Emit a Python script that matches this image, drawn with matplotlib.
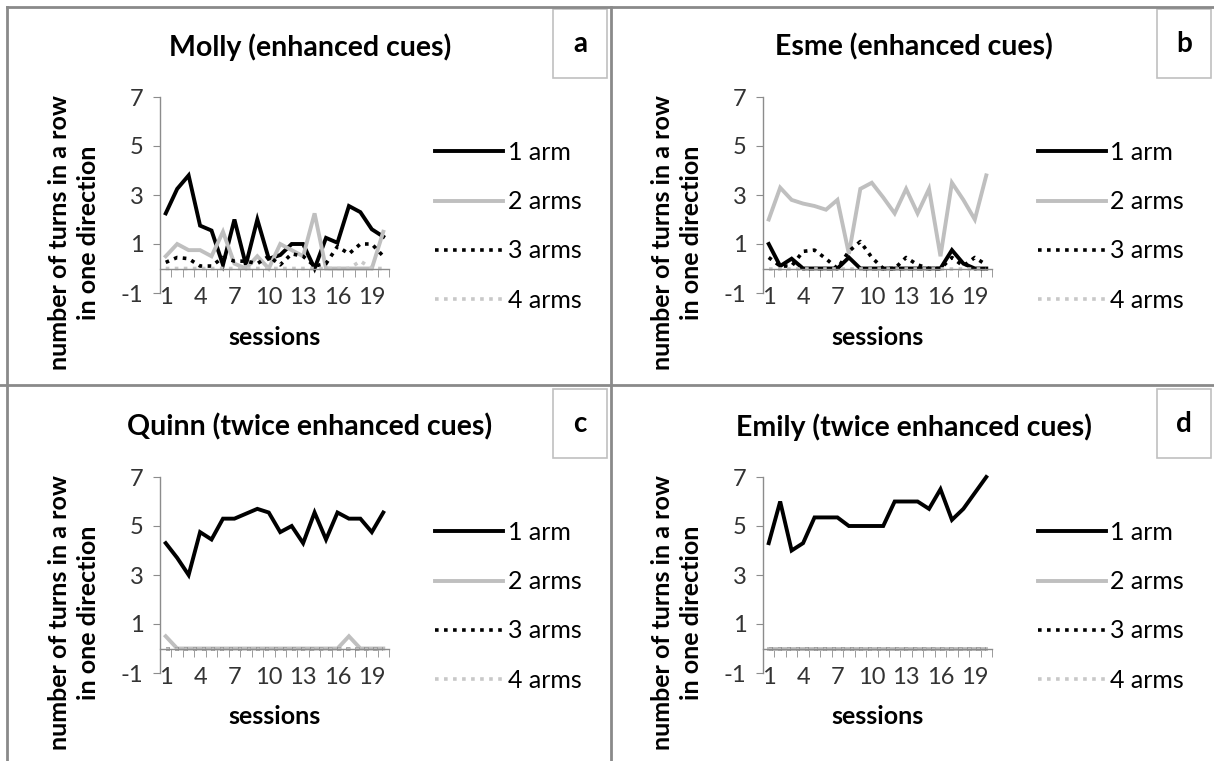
import matplotlib.pyplot as plt
from matplotlib.lines import Line2D
from matplotlib.patches import Rectangle

plt.rcParams['font.family'] = ['Lato', 'DejaVu Sans']
plt.rcParams['axes.unicode_minus'] = False

W, H = 1214, 761

sessions = list(range(1, 21))
series_names = ['1 arm', '2 arms', '3 arms', '4 arms']
x_tick_labels = [1, 4, 7, 10, 13, 16, 19]
y_ticks = [-1, 1, 3, 5, 7]

molly_1 = [2.25, 3.25, 3.8, 1.75, 1.55, 0.15, 2.0, 0.15, 2.0, 0.4,
           0.55, 1.0, 1.0, 0.0, 1.25, 1.05, 2.55, 2.3, 1.6, 1.3]
molly_2 = [0.5, 1.0, 0.75, 0.75, 0.5, 1.5, 0.2, 0.0, 0.5, 0.0,
           1.0, 0.75, 0.5, 2.25, 0.0, 0.0, 0.0, 0.0, 0.0, 1.5]
molly_3 = [0.25, 0.45, 0.4, 0.1, 0.1, 0.45, 0.3, 0.3, 0.2, 0.5,
           0.15, 0.6, 0.5, 0.1, 0.2, 0.9, 0.6, 1.0, 1.0, 0.5]
molly_4 = [0, 0, 0, 0, 0, 0, 0, 0, 0, 0,
           0, 0, 0, 0, 0, 0, 0, 0.3, 0, 0]

esme_1 = [1.0, 0.1, 0.4, 0.0, 0.0, 0.0, 0.0, 0.45, 0.0, 0.0,
          0.0, 0.0, 0.0, 0.0, 0.0, 0.0, 0.75, 0.2, 0.0, 0.0]
esme_2 = [2.0, 3.3, 2.8, 2.65, 2.55, 2.4, 2.8, 0.6, 3.25, 3.5,
          2.9, 2.25, 3.25, 2.25, 3.25, 0.5, 3.5, 2.8, 2.0, 3.8]
esme_3 = [0.45, 0.1, 0.1, 0.7, 0.75, 0.4, 0.0, 0.7, 1.1, 0.45,
          0.0, 0.0, 0.45, 0.15, 0.0, 0.0, 0.45, 0.1, 0.45, 0.15]
esme_4 = [0] * 20

quinn_1 = [4.3, 3.7, 3.0, 4.75, 4.45, 5.3, 5.3, 5.5, 5.7, 5.55,
           4.75, 5.0, 4.3, 5.55, 4.45, 5.55, 5.3, 5.3, 4.75, 5.55]
quinn_2 = [0.5, 0, 0, 0, 0, 0, 0, 0, 0, 0,
           0, 0, 0, 0, 0, 0, 0.5, 0, 0, 0]
quinn_3 = [0] * 20
quinn_4 = [0] * 20

emily_1 = [4.3, 6.0, 4.0, 4.3, 5.35, 5.35, 5.35, 5.0, 5.0, 5.0,
           5.0, 6.0, 6.0, 6.0, 5.7, 6.5, 5.25, 5.7, 6.35, 7.0]
emily_2 = [0] * 20
emily_3 = [0] * 20
emily_4 = [0] * 20

titles = ['Molly (enhanced cues)', 'Esme (enhanced cues)',
          'Quinn (twice enhanced cues)', 'Emily (twice enhanced cues)']
letters = ['a', 'b', 'c', 'd']
panel_data = [
    [molly_1, molly_2, molly_3, molly_4],
    [esme_1, esme_2, esme_3, esme_4],
    [quinn_1, quinn_2, quinn_3, quinn_4],
    [emily_1, emily_2, emily_3, emily_4],
]

# line styles for 1..4 arms
styles = [
    dict(color='black', lw=2.8, ls='-'),
    dict(color='#bfbfbf', lw=2.8, ls='-'),
    dict(color='black', lw=2.6, ls=(0, (1, 1.5))),
    dict(color='#c8c8c8', lw=2.6, ls=(0, (1, 1.5))),
]

# panel geometry in pixels: (plot left, plot right, y of 7, y of -1, panel x0, panel y0)
panels = [
    (160, 389, 97, 293, 0, 0),
    (763, 992, 97, 293, 604, 0),
    (160, 389, 477, 673, 0, 380),
    (763, 992, 477, 673, 604, 380),
]

grey = '#8c8c8c'
fig = plt.figure(figsize=(W / 100, H / 100), dpi=100)


def fx(px):
    return px / W


def fy(py):
    return 1 - py / H


for k, (l, r, t, b, px0, py0) in enumerate(panels):
    ax = fig.add_axes([fx(l), fy(b), (r - l) / W, (b - t) / H])
    handles = []
    for vals, st, name in zip(panel_data[k], styles, series_names):
        h, = ax.plot(sessions, vals, color=st['color'], lw=st['lw'],
                     ls=st['ls'], solid_joinstyle='miter', label=name,
                     clip_on=False)
        handles.append(h)
    ax.set_xlim(0.5, 20.5)
    ax.set_ylim(-1, 7)
    for s in ['top', 'right']:
        ax.spines[s].set_visible(False)
    ax.spines['bottom'].set_position(('data', 0))
    ax.spines['bottom'].set_color(grey)
    ax.spines['left'].set_color(grey)
    ax.spines['bottom'].set_linewidth(1.0)
    ax.spines['left'].set_linewidth(1.0)
    ax.set_yticks(y_ticks)
    ax.tick_params(axis='y', length=5, color=grey, labelsize=17,
                   labelcolor='#333333', pad=7)
    ax.set_xticks(x_tick_labels)
    ax.set_xticks([i + 0.5 for i in range(0, 21)], minor=True)
    ax.tick_params(axis='x', which='major', length=0, pad=13,
                   labelsize=17, labelcolor='#333333')
    ax.tick_params(axis='x', which='minor', length=6, color=grey,
                   direction='out')
    ax.set_facecolor('none')

    cx = (l + r) / 2
    fig.text(fx(cx), fy(b + 44), 'sessions', ha='center', va='center',
             fontsize=18, fontweight='bold')
    fig.text(fx(l - 86), fy((t + b) / 2 + 38),
             'number of turns in a row\nin one direction', rotation=90,
             ha='center', va='center', fontsize=18, fontweight='bold',
             linespacing=1.3)
    fig.text(fx(px0 + 310), fy(py0 + 47), titles[k], ha='center',
             va='center', fontsize=20.5, fontweight='bold')

    ax.legend(handles=handles, loc='upper left', frameon=False,
              bbox_to_anchor=(fx(l + 275), fy(t + 44)),
              bbox_transform=fig.transFigure, fontsize=18,
              handlelength=2.7, handletextpad=0.2, labelspacing=1.05,
              borderaxespad=0, borderpad=0)

    # letter box
    fig.patches.append(Rectangle((fx(px0 + 553), fy(py0 + 78)), 54 / W, 69 / H,
                                 transform=fig.transFigure, fill=False,
                                 edgecolor='#c0c0c0', lw=1.2))
    fig.text(fx(px0 + 580), fy(py0 + 44), letters[k], ha='center',
             va='center', fontsize=20, fontweight='bold')

# panel borders
for (x0, y0, x1, y1) in [(7, 7, W, 7), (7, 7, 7, H), (611, 7, 611, H), (0, 385, W, 385)]:
    fig.lines.append(Line2D([fx(x0), fx(x1)], [fy(y0), fy(y1)],
                            transform=fig.transFigure, color='#8a8a8a', lw=2))

fig.savefig('out.png', dpi=100)
